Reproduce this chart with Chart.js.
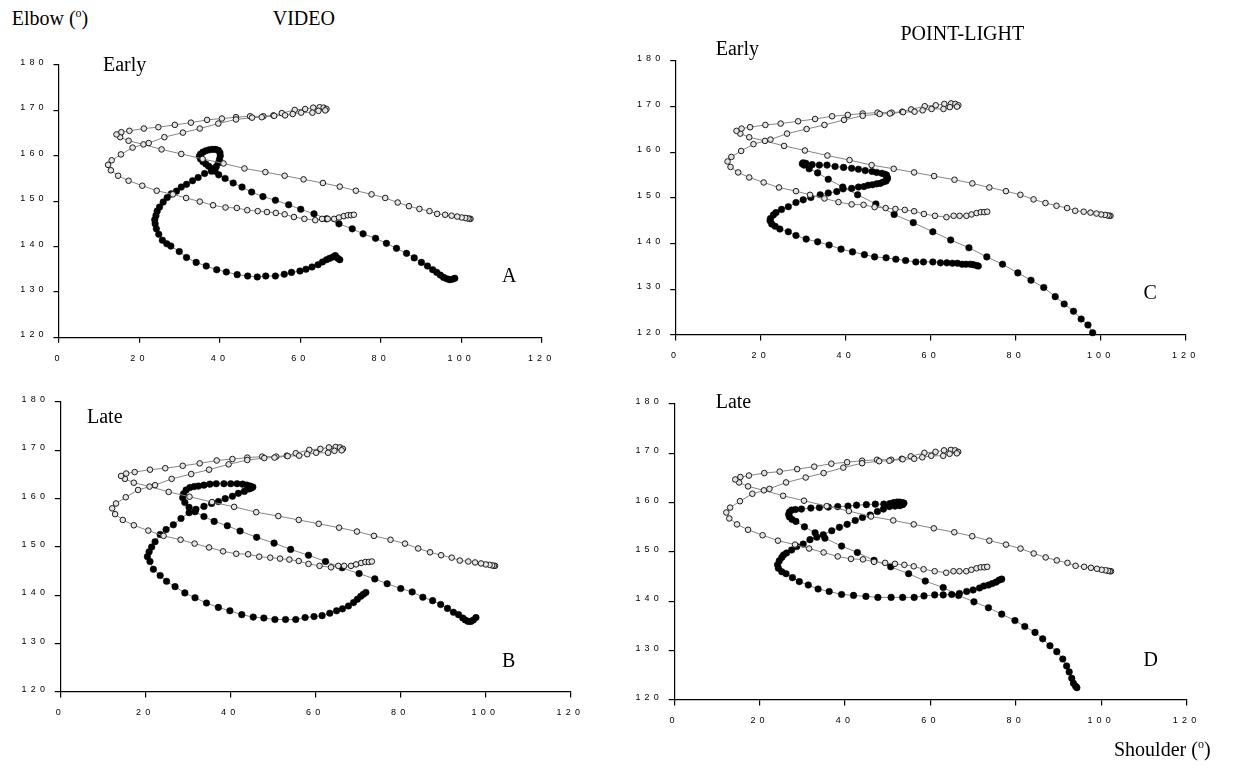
<!DOCTYPE html>
<html>
<head>
<meta charset="utf-8">
<script src="https://cdn.jsdelivr.net/npm/chart.js@4.4.0/dist/chart.umd.min.js"></script>
<style>
html,body{margin:0;padding:0;background:#fff;}
#stage{position:relative;width:1233px;height:770px;overflow:hidden;background:#fff;}
#stage canvas{position:absolute;}
.lbl{position:absolute;font-family:'Liberation Serif','Times New Roman',serif;font-size:20px;line-height:20px;color:#000;white-space:nowrap;}
.sup{font-size:12px;position:relative;top:-8px;}
</style>
</head>
<body>
<div id="stage"></div>
<script>
// ---------- DATA (shoulder angle, elbow angle) ----------
const shoulderTicks = [0, 20, 40, 60, 80, 100, 120];
const elbowTicks = [120, 130, 140, 150, 160, 170, 180];

// open circles: same reference trajectory in all four panels
const referenceTrajectory = [
 [102.3,146.1],[102.0,146.1],[101.6,146.2],[101.0,146.3],[100.1,146.4],[99.0,146.6],[97.6,146.8],[96.0,147.0],
 [94.0,147.2],[92.1,147.8],[89.6,148.3],[87.0,148.9],[84.2,149.7],[81.1,150.7],[77.7,151.5],[73.8,152.3],
 [69.8,153.2],[65.6,154.0],[60.8,154.8],[56.1,155.6],[51.3,156.4],[46.1,157.2],[40.9,158.3],[35.7,159.3],
 [30.4,160.4],[25.5,161.4],[21.0,162.5],[17.3,163.3],[15.2,164.1],
 [14.3,164.7],[15.5,165.2],[17.5,165.5],[21.1,166.0],[24.7,166.3],[28.8,166.8],[32.8,167.3],[36.8,167.9],
 [40.5,168.2],[44.0,168.5],[47.5,168.7],[50.8,168.7],[53.3,168.9],[55.4,169.4],[58.6,170.1],[61.2,170.3],
 [63.2,170.6],[64.8,170.7],[65.8,170.6],[66.5,170.3],
 [66.2,170.0],[64.5,169.9],[63.0,169.5],[60.2,169.5],[58.1,169.2],[56.2,168.9],[53.5,168.8],[50.4,168.5],
 [48.0,168.4],[44.0,168.0],[39.6,167.1],[35.0,166.0],[30.8,165.1],[26.2,164.1],[22.3,162.8],[18.3,161.8],
 [15.4,160.3],[13.1,159.0],[12.2,158.0],[12.9,156.8],[14.7,155.6],[17.3,154.5],[20.7,153.4],[24.3,152.3],
 [28.3,151.5],[31.6,150.7],[35.0,149.9],[38.3,149.1],[41.4,148.6],[44.2,148.5],[46.8,148.0],[49.4,147.8],
 [51.7,147.6],[53.9,147.4],[56.1,147.1],[58.4,146.5],[61.0,146.1],[63.7,145.8],[65.4,146.1],[66.8,146.1],
 [68.4,146.1],[69.6,146.4],[70.8,146.7],[71.8,146.9],[72.6,146.9],[73.3,147.0]
];

// filled circles, panel A (VIDEO, Early)
const videoEarly = [
 [98.4,133.0],[97.8,132.8],[97.1,132.7],[96.4,132.9],[95.6,133.2],[94.8,133.7],[93.9,134.3],[92.9,134.9],
 [91.6,135.7],[90.1,136.5],[88.3,137.5],[86.4,138.5],[83.9,139.6],[81.4,140.7],[78.7,141.8],[75.6,142.8],
 [72.9,143.9],[69.6,145.0],[66.5,146.1],[63.4,147.2],[60.1,148.2],[57.1,149.2],[53.8,150.2],[50.7,151.0],
 [47.9,152.0],[45.5,153.1],[43.3,154.0],[41.3,155.0],[39.7,155.8],
 [38.8,156.6],[37.9,157.2],[37.2,157.7],[36.5,158.2],[35.8,158.7],[35.2,159.3],[34.9,159.9],[35.2,160.4],
 [35.8,160.8],[36.5,161.1],[37.3,161.3],[38.1,161.4],[38.9,161.4],[39.6,161.2],[40.0,160.7],[40.1,160.0],
 [39.9,159.2],[39.6,158.4],[39.1,157.6],[38.5,157.0],[37.9,156.6],
 [36.2,156.1],[34.6,155.2],[33.2,154.5],[31.7,153.7],[30.4,153.1],[29.2,152.2],[27.9,151.6],[26.9,150.8],
 [25.9,149.8],[25.0,148.7],[24.4,147.8],[24.1,146.8],[23.8,145.9],[23.9,145.0],[24.2,143.9],[24.8,142.7],
 [25.7,141.4],[26.8,140.6],[27.8,140.1],[29.9,138.9],[31.7,137.6],[34.1,136.5],[36.6,135.7],[39.2,134.9],
 [41.6,134.4],[44.3,133.8],[46.9,133.5],[49.3,133.3],[51.4,133.5],[53.8,133.5],[56.0,133.9],[57.8,134.3],
 [59.9,134.6],[61.4,135.0],[62.9,135.5],[64.4,136.0],[65.5,136.6],[66.5,137.1],[67.3,137.4],[68.1,137.7],
 [68.7,138.0],[69.3,137.4],[69.8,137.1]
];

// filled circles, panel B (VIDEO, Late)
const videoLate = [
 [97.8,135.4],[97.2,134.9],[96.6,134.6],[96.0,134.6],[95.3,134.9],[94.7,135.3],[93.7,136.0],[92.5,136.5],
 [91.1,137.3],[89.5,138.1],[87.6,138.9],[85.3,139.6],[82.8,140.7],[80.1,141.4],[76.9,142.4],[74.0,143.4],
 [70.3,144.5],[66.3,145.7],[62.4,147.0],[58.4,148.3],[54.2,149.5],[50.3,150.8],[46.2,152.0],[42.3,153.3],
 [39.3,154.4],[36.2,155.3],[33.8,156.3],[31.7,157.3],[30.3,158.2],[29.3,159.2],[28.8,160.2],[29.0,161.0],
 [29.6,161.8],[30.5,162.3],[31.5,162.5],[32.5,162.6],[33.8,162.8],[35.2,163.0],[36.7,163.1],[38.5,163.1],
 [40.1,163.1],[41.6,163.1],[42.9,163.0],[43.9,162.8],[44.7,162.6],[45.3,162.4],[45.0,162.2],[44.4,162.0],
 [43.3,161.5],[41.9,161.1],[40.5,160.5],[38.8,160.0],[37.2,159.4],[35.6,159.0],[33.8,158.4],[31.9,157.8],
 [30.3,157.1],[28.4,155.9],[26.6,154.6],[24.9,153.6],[23.5,152.6],[22.3,151.1],[21.5,150.0],[20.9,149.0],
 [20.5,148.0],[21.1,147.0],[21.9,145.4],[23.5,144.1],[25.0,142.9],[27.0,141.8],[29.3,140.5],[31.7,139.5],
 [34.4,138.4],[37.2,137.5],[39.9,136.8],[42.7,136.0],[45.4,135.5],[47.9,135.3],[50.5,135.0],[53.0,135.0],
 [55.4,135.0],[57.6,135.4],[59.7,135.6],[61.6,135.8],[63.4,136.3],[65.0,136.8],[66.4,137.2],[67.8,137.8],
 [69.0,138.5],[69.9,139.2],[70.7,139.8],[71.3,140.2],[71.9,140.6]
];

// filled circles, panel C (POINT-LIGHT, Early)
const pointLightEarly = [
 [98.1,120.5],[97.0,122.2],[95.4,123.5],[93.6,125.2],[91.4,126.8],[89.3,128.4],[86.6,130.4],[83.6,132.0],
 [80.5,133.6],[76.9,135.5],[73.2,137.1],[69.0,139.1],[64.7,140.8],[60.5,142.6],[55.9,144.6],[51.4,146.4],
 [47.1,148.7],[42.8,150.7],[39.3,152.4],[35.9,154.1],[33.4,155.5],[31.4,156.4],[30.2,157.2],[29.8,157.5],
 [30.0,157.7],[30.6,157.6],[32.1,157.3],[33.8,157.2],[35.6,157.2],[37.5,156.9],[39.5,156.7],[41.4,156.5],
 [43.0,156.3],[44.6,156.0],[46.2,155.8],[47.3,155.6],[48.5,155.4],[49.2,155.2],[49.6,155.0],[49.7,154.7],
 [49.8,154.4],[49.8,154.2],[49.5,153.7],[48.8,153.5],[48.1,153.2],[47.3,153.1],[46.3,152.9],[45.3,152.8],
 [44.3,152.5],[43.0,152.4],[41.4,152.1],[39.4,152.0],[37.9,151.4],[35.9,151.1],[34.0,150.7],[31.8,150.1],
 [30.0,149.6],[28.3,149.0],[26.5,148.1],[24.9,147.5],[23.6,146.8],[23.0,146.3],[22.3,145.5],[22.2,145.0],
 [22.6,144.3],[23.4,143.8],[24.5,143.2],[26.5,142.6],[28.3,141.8],[30.7,141.0],[33.4,140.4],[36.1,139.7],
 [38.9,138.8],[41.6,138.2],[44.4,137.6],[46.8,137.1],[49.5,136.9],[51.8,136.6],[54.1,136.3],[56.5,136.0],
 [58.3,136.0],[60.5,136.0],[62.3,135.8],[63.8,135.8],[65.1,135.7],[66.3,135.7],[67.4,135.5],[68.3,135.5],
 [69.3,135.5],[70.0,135.4],[70.8,135.2],[71.2,135.1]
];

// filled circles, panel D (POINT-LIGHT, Late)
const pointLightLate = [
 [94.3,122.5],[94.0,122.8],[93.5,123.4],[93.1,124.4],[92.5,125.7],[91.9,126.9],[91.0,128.3],[89.6,129.8],
 [88.0,131.0],[86.3,132.4],[84.5,133.7],[82.1,134.9],[79.8,136.1],[76.7,137.4],[73.6,138.7],[70.2,139.9],
 [66.6,141.2],[63.0,142.8],[58.8,144.1],[54.9,145.6],[50.7,147.0],[46.8,148.3],[42.9,149.9],[39.2,151.2],
 [35.3,152.8],[33.0,153.9],[30.5,155.1],[28.5,156.2],[27.6,156.6],[27.0,157.1],[26.8,157.6],[27.0,158.1],
 [27.5,158.5],[28.4,158.6],[29.8,158.7],[32.0,158.9],[34.0,159.0],[36.1,159.1],[38.3,159.2],[40.7,159.3],
 [42.7,159.5],[45.0,159.6],[47.1,159.7],[49.1,159.7],[50.5,159.8],[51.4,160.0],[52.2,160.1],[52.8,160.1],
 [53.4,160.0],[53.8,159.9],[53.5,159.6],[52.8,159.4],[51.7,159.3],[50.4,159.2],[49.0,158.7],[47.6,158.2],
 [45.9,157.5],[44.1,157.0],[42.4,156.4],[40.5,155.6],[38.7,155.0],[36.9,154.3],[34.9,153.5],[33.4,153.0],
 [31.8,152.5],[30.2,151.6],[28.7,151.1],[27.5,150.4],[26.3,149.8],[25.6,149.4],[25.2,148.9],[24.6,148.2],
 [24.2,147.4],[24.4,146.7],[25.2,146.0],[26.2,145.6],[27.7,144.8],[29.3,144.0],[31.4,143.3],[33.7,142.5],
 [36.3,142.0],[39.2,141.4],[42.0,141.2],[44.9,141.0],[47.7,140.8],[50.8,140.8],[53.5,140.8],[56.2,140.8],
 [58.5,141.1],[61.0,141.3],[63.0,141.3],[65.0,141.4],[66.8,141.6],[68.5,142.0],[70.0,142.3],[71.5,142.7],
 [72.5,143.1],[73.6,143.3],[74.5,143.6],[75.4,143.9],[76.1,144.3],[76.7,144.5]
];

// ---------- LAYOUT ----------
const stage = document.getElementById('stage');
const TICK_SPACING = '4.2px';
const tickFont = {family: "'Liberation Sans', Arial, sans-serif", size: 9};

const panels = [
  {series: videoEarly,      area: {L: 59,    R: 541.7,  T: 65,  B: 337.3}},
  {series: videoLate,       area: {L: 60.3,  R: 570.3,  T: 402, B: 692}},
  {series: pointLightEarly, area: {L: 675.7, R: 1185.7, T: 61,  B: 335}},
  {series: pointLightLate,  area: {L: 674.2, R: 1186.6, T: 404, B: 700}}
];

const spacingPlugin = {
  id: 'tickSpacing',
  beforeLayout(chart) { chart.ctx.letterSpacing = TICK_SPACING; },
  beforeDraw(chart) { chart.ctx.letterSpacing = TICK_SPACING; }
};

const toXY = arr => arr.map(p => ({x: p[0], y: p[1]}));

function makePanel(p) {
  const Y_W = 45, X_H = 30;
  const cx = Math.floor(p.area.L) - 55;
  const cy = Math.floor(p.area.T) - 20;
  const W = Math.ceil(p.area.R) + 30 - cx;
  const H = Math.ceil(p.area.B) + 40 - cy;
  const canvas = document.createElement('canvas');
  canvas.width = W; canvas.height = H;
  canvas.style.left = cx + 'px'; canvas.style.top = cy + 'px';
  canvas.style.width = W + 'px'; canvas.style.height = H + 'px';
  stage.appendChild(canvas);
  const pad = {
    left: p.area.L - cx - Y_W,
    top: p.area.T - cy,
    right: cx + W - p.area.R,
    bottom: cy + H - p.area.B - X_H
  };
  const axisCommon = {
    type: 'linear',
    border: {display: true, color: '#000', width: 1.2},
    grid: {display: true, drawOnChartArea: false, drawTicks: true, tickLength: 5.5, color: '#000', lineWidth: 1.2},
  };
  new Chart(canvas, {
    type: 'scatter',
    data: {
      datasets: [
        {
          data: toXY(referenceTrajectory), showLine: true, tension: 0, clip: false,
          borderColor: '#858585', borderWidth: 1,
          pointRadius: 2.8, pointBackgroundColor: '#e4e4e4', pointBorderColor: '#1a1a1a', pointBorderWidth: 1
        },
        {
          data: toXY(p.series), showLine: true, tension: 0, clip: false,
          borderColor: '#858585', borderWidth: 1,
          pointRadius: 3.3, pointBackgroundColor: '#000', pointBorderColor: '#000', pointBorderWidth: 0.5
        }
      ]
    },
    options: {
      responsive: false, animation: false, devicePixelRatio: 1, events: [],
      layout: {padding: pad},
      plugins: {legend: {display: false}, tooltip: {enabled: false}},
      scales: {
        x: Object.assign({}, axisCommon, {
          min: 0, max: 120,
          afterBuildTicks: a => { a.ticks = shoulderTicks.map(v => ({value: v})); },
          afterFit: a => { a.height = X_H; },
          ticks: {font: tickFont, color: '#000', padding: 10, autoSkip: false, maxRotation: 0}
        }),
        y: Object.assign({}, axisCommon, {
          min: 120, max: 180,
          afterBuildTicks: a => { a.ticks = elbowTicks.map(v => ({value: v})); },
          afterFit: a => { a.width = Y_W; },
          ticks: {font: tickFont, color: '#000', padding: 5.7, labelOffset: -2.5, autoSkip: false}
        })
      }
    },
    plugins: [spacingPlugin]
  });
}
panels.forEach(makePanel);

// ---------- TEXT LABELS (left, baseline) ----------
const labels = [
  {html: 'Elbow (<span class="sup">o</span>)', x: 11.7, b: 25},
  {html: 'VIDEO', x: 272.7, b: 25},
  {html: 'POINT-LIGHT', x: 900.5, b: 39.6},
  {html: 'Early', x: 103, b: 71},
  {html: 'A', x: 502, b: 282},
  {html: 'Early', x: 715.7, b: 54.5},
  {html: 'C', x: 1143.4, b: 299},
  {html: 'Late', x: 87, b: 423},
  {html: 'B', x: 502, b: 667},
  {html: 'Late', x: 715.7, b: 408},
  {html: 'D', x: 1143.4, b: 666},
  {html: 'Shoulder (<span class="sup">o</span>)', x: 1114, b: 756}
];
labels.forEach(l => {
  const d = document.createElement('div');
  d.className = 'lbl';
  d.innerHTML = l.html;
  d.style.left = l.x + 'px';
  d.style.top = (l.b - 16.75) + 'px';
  stage.appendChild(d);
});
</script>
</body>
</html>
